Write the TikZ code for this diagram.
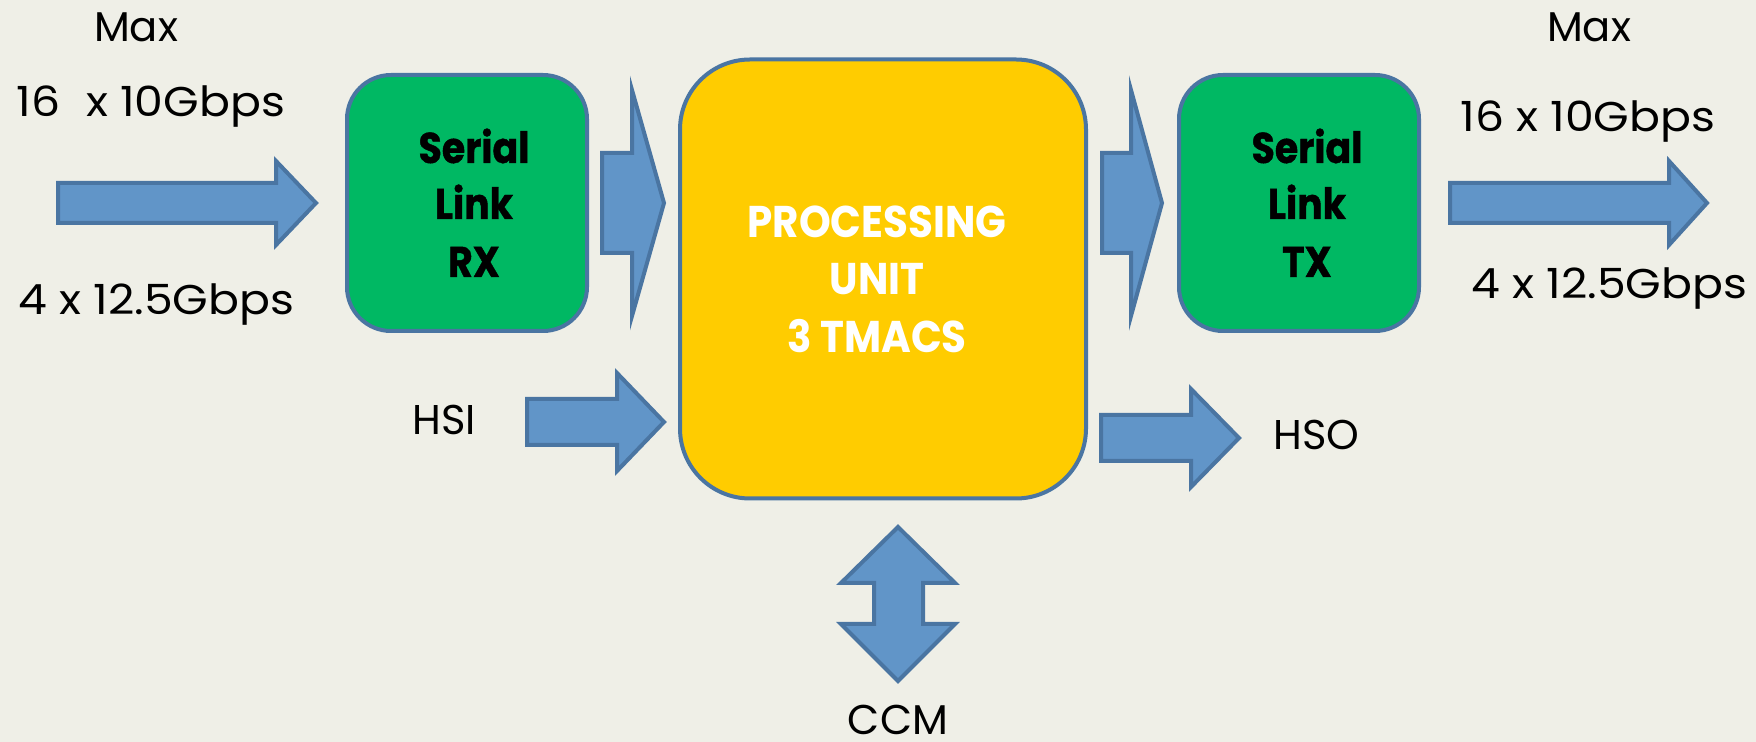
\documentclass[tikz,border=0pt]{standalone}
\usepackage{fontspec}
\setmainfont{Poppins}
\newfontfamily\ratefont[FakeStretch=1.1]{Poppins}
\newfontfamily\condfont[FakeStretch=0.88,FakeBold=1]{Poppins}
\newfontfamily\pufont[FakeStretch=0.91]{Poppins}
\definecolor{bgcol}{HTML}{EFEFE7}
\definecolor{arrowfill}{HTML}{6195C8}
\definecolor{edgecol}{HTML}{4A75A2}
\definecolor{linkgreen}{HTML}{00B863}
\definecolor{puyellow}{HTML}{FFCC00}
\tikzset{
  blockarrow/.style={fill=arrowfill, draw=edgecol, line width=2pt, line join=miter},
  linkbox/.style={draw=edgecol, fill=linkgreen, line width=2pt, rounded corners=22pt,
    minimum width=120pt, minimum height=128pt, inner sep=0pt},
  pubox/.style={draw=edgecol, fill=puyellow, line width=2pt, rounded corners=35pt,
    minimum width=203pt, minimum height=219.5pt, inner sep=0pt},
  lbl/.style={inner sep=0pt, font=\fontsize{20.8}{24}\selectfont},
  ratelbl/.style={inner sep=0pt, anchor=base west, font=\ratefont\fontsize{20.8}{24}\selectfont},
  linklbl/.style={inner sep=0pt, anchor=base, font=\condfont\bfseries\fontsize{21.5}{24}\selectfont},
  pulbl/.style={inner sep=0pt, anchor=base, text=white, font=\pufont\bfseries\fontsize{22.2}{24}\selectfont},
}
% right-pointing block arrow: tail x, head base x, tip x, centre y, half body, half head
\newcommand{\rightblock}[6]{%
  \draw[blockarrow] (#1,#4-#5) -- (#2,#4-#5) -- (#2,#4-#6) -- (#3,#4)
    -- (#2,#4+#6) -- (#2,#4+#5) -- (#1,#4+#5) -- cycle;}
\begin{document}
\begin{tikzpicture}[x=0.5pt,y=-0.5pt]
\fill[bgcol] (0,0) rectangle (1756,742);
\useasboundingbox (0,0) rectangle (1756,742);

% blocks
\node[linkbox] (rx) at (467,203) {};
\node[linkbox] (tx) at (1299,203) {};
\node[pubox] (pu) at (883,279) {};

% block labels
\node[linklbl] (rxa) at (474,163) {Serial};
\node[linklbl] (rxb) at (474,219) {Link};
\node[linklbl] (rxc) at (474,277) {RX};
\node[linklbl] (txa) at (1307,163) {Serial};
\node[linklbl] (txb) at (1307,219) {Link};
\node[linklbl] (txc) at (1307,277) {TX};
\node[pulbl] (pua) at (877,238) {PROCESSING};
\node[pulbl] (pub) at (877,295) {UNIT};
\node[pulbl] (puc) at (877,353) {3 TMACS};

% data paths
\rightblock{58}{276}{316}{203}{20}{42}
\rightblock{602}{632}{664}{203}{50}{113}
\rightblock{1102}{1131}{1162}{203}{50}{113}
\rightblock{1450}{1669}{1707}{203}{20}{42}
\rightblock{527}{617}{664}{422}{23}{49}
\rightblock{1101}{1191}{1239}{438}{23}{49}
% CCM double arrow
\draw[blockarrow] (898,527) -- (955,583) -- (923,583) -- (923,624) -- (955,624)
  -- (898,681) -- (841,624) -- (874,624) -- (874,583) -- (841,583) -- cycle;

% outside labels
\node[lbl, anchor=base] (maxl) at (136,42) {Max};
\node[ratelbl] (inrate1) at (16,117) {16\hspace{13pt}x 10Gbps};
\node[ratelbl] (inrate2) at (18,315) {4 x 12.5Gbps};
\node[lbl, anchor=base] (maxr) at (1589,42) {Max};
\node[ratelbl] (outrate1) at (1460,132) {16 x 10Gbps};
\node[ratelbl] (outrate2) at (1471,299) {4 x 12.5Gbps};
\node[lbl, anchor=base west] (hsi) at (412,435) {HSI};
\node[lbl, anchor=base west] (hso) at (1273,450) {HSO};
\node[lbl, anchor=base] (ccm) at (898,734) {CCM};
\end{tikzpicture}
\end{document}
